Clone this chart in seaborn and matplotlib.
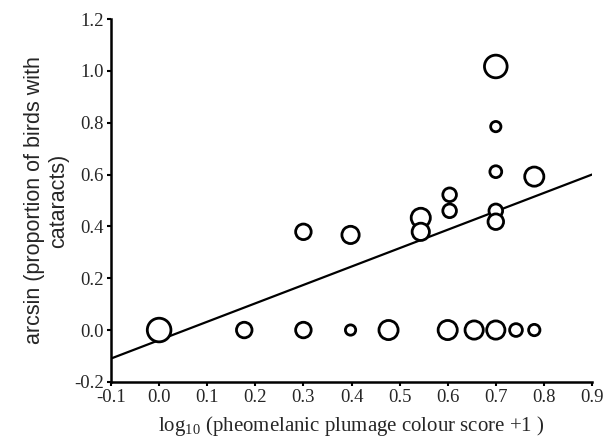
import numpy as np
import pandas as pd
import matplotlib
matplotlib.use("Agg")
import matplotlib.pyplot as plt
import seaborn as sns

# plumage score (log10) and arcsin of cataract proportion, one entry per species
colour_score = [0.00, 0.177, 0.30, 0.398, 0.477, 0.60, 0.655, 0.70, 0.742, 0.78,
                0.30, 0.398, 0.544, 0.544, 0.604, 0.604, 0.70, 0.70, 0.70, 0.70, 0.70, 0.78]
cataract = [0.0, 0.0, 0.0, 0.0, 0.0, 0.0, 0.0, 0.0, 0.0, 0.0,
            0.379, 0.367, 0.433, 0.379, 0.522, 0.46, 1.017, 0.785, 0.611, 0.46, 0.418, 0.592]
# sample size per species (circle area)
n_birds = [50, 22, 22, 10, 33, 33, 30, 30, 15, 12,
           22, 27, 33, 27, 17, 17, 46, 10, 13, 17, 22, 33]

# fitted line end points
fit_x = [-0.1, 0.9]
fit_y = [-0.11, 0.60]

df = pd.DataFrame({"x": colour_score, "y": cataract, "n": n_birds})

sns.set_style("ticks")
plt.rcParams['font.family'] = ['Liberation Serif', 'DejaVu Serif']
plt.rcParams['mathtext.fontset'] = 'custom'
plt.rcParams['mathtext.rm'] = 'Liberation Serif'

fig = plt.figure(figsize=(6.05, 4.43), dpi=100)
ax = fig.add_axes([0.1835, 0.138, 0.795, 0.819])

sns.lineplot(x=fit_x, y=fit_y, color='black', linewidth=1.6, ax=ax)
sns.scatterplot(data=df, x="x", y="y", size="n", sizes=(55, 290), size_norm=(10, 50),
                facecolor='white', edgecolor='black', linewidth=2.0, legend=False,
                ax=ax, zorder=3)

ax.set_xlim(-0.1, 0.9)
ax.set_ylim(-0.2, 1.2)
xt = np.arange(-0.1, 0.91, 0.1)
yt = np.arange(-0.2, 1.21, 0.2)
ax.set_xticks(xt)
ax.set_yticks(yt)
ax.set_xticklabels([f"{v:.1f}" for v in xt])
ax.set_yticklabels([f"{v:.1f}" for v in yt])
ax.tick_params(length=3, width=1.5, color='black', pad=2, labelsize=13.5)
for s in ['left', 'bottom']:
    ax.spines[s].set_linewidth(1.8)
    ax.spines[s].set_color('black')
sns.despine(ax=ax)

ax.set_xlabel(r'log$_{10}$ (pheomelanic plumage colour score +1 )', fontsize=15, labelpad=6)
ax.set_ylabel('arcsin (proportion of birds with\ncataracts)', fontsize=15.5, labelpad=4,
              family=['Liberation Sans', 'DejaVu Sans'], multialignment='center')

fig.savefig("out.png", dpi=100)
